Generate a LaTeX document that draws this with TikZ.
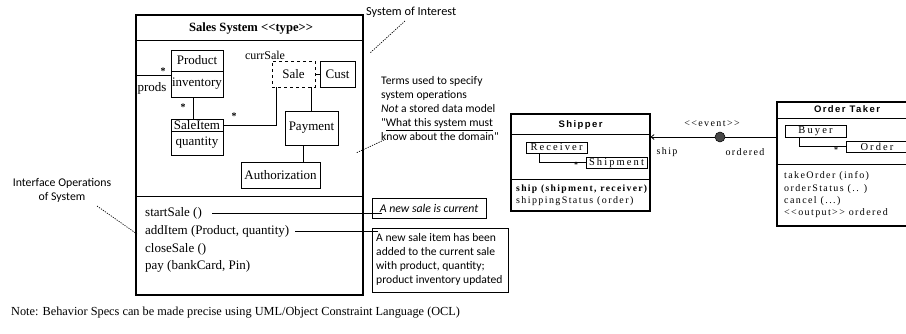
\documentclass[tikz,border=0pt]{standalone}
\usepackage{fontspec}
\setmainfont{Liberation Serif}
\newfontfamily\handfont{Carlito}
\newfontfamily\umlhead[LetterSpace=15]{Liberation Sans}
\newfontfamily\umlops[LetterSpace=14]{Liberation Serif}
\newfontfamily\umlmini[LetterSpace=20]{Liberation Serif}
\usetikzlibrary{arrows.meta}
\begin{document}
\begin{tikzpicture}[x=1pt,y=-1pt,
  cls/.style={draw, line width=0.6pt, inner sep=0pt, font=\fontsize{13}{15}\selectfont},
  mini/.style={draw, line width=0.6pt, inner sep=0pt, font=\umlmini\fontsize{10.5}{11}\selectfont},
  frame/.style={draw, line width=1.3pt, inner sep=0pt},
  rframe/.style={draw, line width=1.1pt, inner sep=0pt},
  assoc/.style={line width=0.6pt},
  hand/.style={font=\handfont\fontsize{11.6}{14}\selectfont, inner sep=0pt},
  callout/.style={dash pattern=on 1.2pt off 1.2pt, line width=0.7pt},
  notebox/.style={draw, line width=0.5pt, inner sep=0pt},
  op/.style={anchor=west, inner sep=0pt, font=\fontsize{13}{15}\selectfont},
  rop/.style={anchor=west, inner sep=0pt, font=\umlops\fontsize{10}{11}\selectfont},
  rlabel/.style={inner sep=0pt, font=\umlops\fontsize{10}{11}\selectfont},
  mult/.style={inner sep=0pt, font=\bfseries\fontsize{10}{10}\selectfont}
]
\useasboundingbox (0,0) rectangle (906,333);

% ---------- Sales System type box ----------
\node[frame, minimum width=227, minimum height=280] (sys) at (249.5,155) {};
\node[font=\bfseries\fontsize{12.6}{14}\selectfont, inner sep=0pt] (systitle) at (251,28) {Sales System <{}<type>{}>};
\draw[line width=0.9pt] (136,40) -- (363,40);
\draw[line width=0.9pt] (136,196) -- (363,196);

% model types
\node[cls, minimum width=52, minimum height=21] (product) at (197,60.5) {Product};
\node[cls, minimum width=52, minimum height=26] (inventory) at (197,84) {inventory};
\node[cls, minimum width=52, minimum height=12] (saleitem) at (197,125) {SaleItem};
\node[cls, minimum width=52, minimum height=24] (quantity) at (197,143) {quantity};
\node[cls, dashed, minimum width=43, minimum height=26] (sale) at (293.5,74) {Sale};
\node[cls, minimum width=35, minimum height=26] (cust) at (337.5,74) {Cust};
\node[cls, minimum width=53, minimum height=34] (payment) at (311.5,128) {Payment};
\node[cls, minimum width=79, minimum height=26] (auth) at (280.5,175) {Authorization};

\node[inner sep=1pt, fill=white, font=\fontsize{12}{14}\selectfont] (currsale) at (265,55) {currSale};

% associations
\coordinate (prodsend) at (136,75);
\draw[assoc] (prodsend) -- (prodsend -| inventory.west);
\node[mult] (m1) at (163,71) {*};
\node[inner sep=0pt, font=\fontsize{13}{15}\selectfont] (prods) at (152,88) {prods};
\draw[assoc] ([xshift=-4]inventory.south) -- ([xshift=-4]saleitem.north);
\node[mult] (m2) at (183,107) {*};
\draw[assoc] (saleitem.east) -| ([xshift=-17.5]sale.south);
\node[mult] (m3) at (234,116) {*};
\draw[assoc] (sale.east) -- (cust.west);
\draw[assoc] (payment.north) -- (payment.north |- sale.south);
\draw[assoc] ([xshift=-8.5]payment.south) -- ([xshift=-8.5]payment.south |- auth.north);

% operations
\node[op] (startsale) at (145,213) {startSale ()};
\node[op] (additem) at (145,231) {addItem (Product, quantity)};
\node[op] (closesale) at (145,249) {closeSale ()};
\node[op] (pay) at (145,266) {pay (bankCard, Pin)};

% notes on the operations
\node[notebox, minimum width=114, minimum height=20] (note1) at (429,208) {};
\node[hand, font=\handfont\itshape\fontsize{11.8}{14}\selectfont] (note1txt) at (429,208.5) {A new sale is current};
\node[notebox, minimum width=136, minimum height=64] (note2) at (440,260) {};
\node[hand, align=left, anchor=north west] (note2txt) at (376,233.5) {A new sale item has been\\added to the current sale\\with product, quantity;\\product inventory updated};
\draw[assoc] ([xshift=10]startsale.east) -- ([xshift=10]startsale.east -| note1.west);
\draw[assoc] ([xshift=6]additem.east) -- ([xshift=6]additem.east -| note2.west);

% annotations
\node[hand, anchor=west, font=\handfont\fontsize{12.3}{14}\selectfont] (soi) at (366,12) {System of Interest};
\coordinate (soistart) at (405,21);
\coordinate (soiend) at (370,53);
\draw[callout] (soistart) -- (soiend);
\node[hand, align=left, anchor=north west] (terms) at (381,76.5) {Terms used to specify\\system operations\\\textit{Not} a stored data model\\"\underline{What this system must}\\know about the domain"};
\coordinate (termsstart) at (384,140);
\coordinate (termsend) at (356,153);
\draw[callout] (termsstart) -- (termsend);
\node[hand, align=center, font=\handfont\fontsize{11.8}{14}\selectfont] (iface) at (62,190) {Interface Operations\\of System};
\coordinate (ifacestart) at (97,206);
\coordinate (ifaceend) at (137,234);
\draw[callout] (ifacestart) -- (ifaceend);

\node[anchor=west, inner sep=0pt, font=\fontsize{12.3}{14}\selectfont] (footnote) at (11,313) {Note: Behavior Specs can be made precise using UML/Object Constraint Language (OCL)};

% ---------- Shipper ----------
\node[rframe, minimum width=139, minimum height=97] (shipper) at (580.5,162.5) {};
\node[inner sep=0pt, font=\umlhead\bfseries\fontsize{9.5}{11}\selectfont] (shiptitle) at (580.5,125) {Shipper};
\draw[line width=0.9pt] (511,134) -- (650,134);
\draw[line width=0.9pt] (511,179) -- (650,179);
\node[mini, minimum width=61, minimum height=11] (receiver) at (556.5,147.5) {Receiver};
\node[mini, minimum width=61, minimum height=11] (shipment) at (616.5,162.5) {Shipment};
\draw[assoc] ([xshift=-17.5]receiver.south) |- (shipment.west);
\node[mult, font=\bfseries\fontsize{8}{8}\selectfont] (m4) at (576,165) {*};
\node[rop, font=\umlops\bfseries\fontsize{9.6}{11}\selectfont] (shipop) at (516,189) {ship (shipment, receiver)};
\node[rop] (statusop) at (516,201) {shippingStatus (order)};

% ---------- Order Taker ----------
\node[rframe, minimum width=140, minimum height=124] (taker) at (847,164) {};
\node[inner sep=0pt, font=\umlhead\bfseries\fontsize{9.5}{11}\selectfont] (takertitle) at (847,109) {Order Taker};
\draw[line width=0.9pt] (777,118) -- (917,118);
\draw[line width=0.9pt] (777,164) -- (917,164);
\node[mini, minimum width=61, minimum height=12] (buyer) at (815.5,131) {Buyer};
\node[mini, minimum width=62, minimum height=11] (order) at (877,146.5) {Order};
\draw[assoc] ([xshift=-16.5]buyer.south) |- (order.west);
\node[mult, font=\bfseries\fontsize{8}{8}\selectfont] (m5) at (836,150) {*};
\node[rop] (takeop) at (784,176) {takeOrder (info)};
\node[rop] (orderstatusop) at (784,189) {orderStatus (.. )};
\node[rop] (cancelop) at (784,201) {cancel (...)};
\node[rop] (outop) at (784,213) {<{}<output>{}> ordered};

% ---------- event connector ----------
\node[circle, draw, line width=0.5pt, fill=gray!55!black, minimum size=10, inner sep=0pt] (ev) at (720,137) {};
\draw[line width=0.8pt] (taker.west |- ev) -- (ev);
\draw[line width=0.8pt, -{Straight Barb[length=3pt,width=5pt]}] (ev) -- (ev -| shipper.east);
\node[rlabel] (evlabel) at (712,124) {<{}<event>{}>};
\node[rlabel] (shiplabel) at (667,152) {ship};
\node[rlabel] (orderedlabel) at (745,152) {ordered};
\end{tikzpicture}
\end{document}
